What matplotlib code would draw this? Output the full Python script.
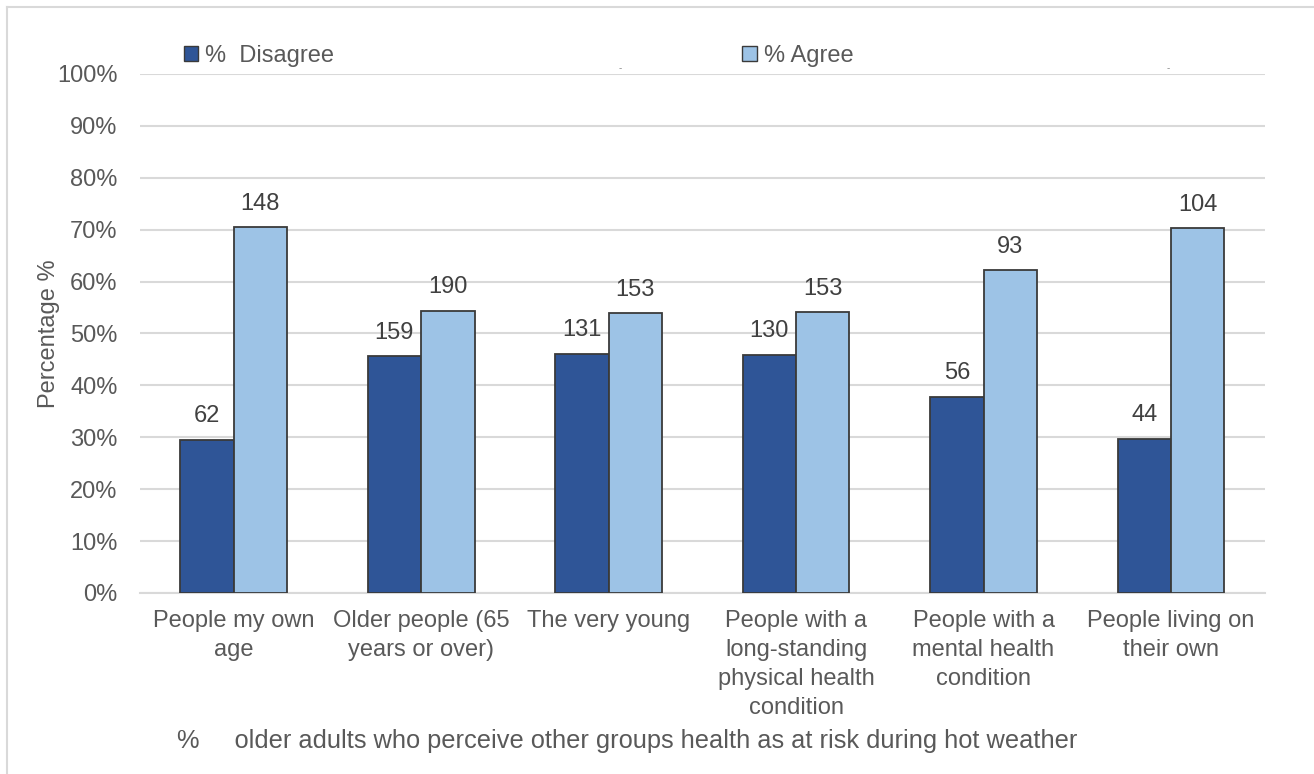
import matplotlib.pyplot as plt
from matplotlib.patches import Patch
from matplotlib.lines import Line2D
import numpy as np

plt.rcParams['font.family'] = ['Liberation Sans', 'DejaVu Sans']

# chart values
groups = ["People my own\nage", "Older people (65\nyears or over)", "The very young",
          "People with a\nlong-standing\nphysical health\ncondition",
          "People with a\nmental health\ncondition", "People living on\ntheir own"]
disagree_pct = [29.5, 45.6, 46.1, 45.9, 37.8, 29.7]
agree_pct = [70.5, 54.4, 53.9, 54.1, 62.2, 70.3]
disagree_n = [62, 159, 131, 130, 56, 44]
agree_n = [148, 190, 153, 153, 93, 104]

text_col = '#595959'
dark_blue = '#2F5597'
light_blue = '#9DC3E6'
fs = 17

fig = plt.figure(figsize=(13.14, 7.74), dpi=100)
ax = fig.add_axes([0.1065, 0.2339, 0.856, 0.6705])

x = np.arange(len(groups))
w = 0.285
b1 = ax.bar(x - w / 2, disagree_pct, w, color=dark_blue, edgecolor='#3a3a3a', linewidth=1.3, zorder=3)
b2 = ax.bar(x + w / 2, agree_pct, w, color=light_blue, edgecolor='#3a3a3a', linewidth=1.3, zorder=3)

for bars, counts in ((b1, disagree_n), (b2, agree_n)):
    for rect, n in zip(bars, counts):
        ax.annotate(str(n), (rect.get_x() + rect.get_width() / 2, rect.get_height()),
                    xytext=(0, 9), textcoords='offset points', ha='center', va='bottom',
                    fontsize=fs, color='#404040')

ax.set_xlim(-0.5, len(groups) - 0.5)
ax.set_ylim(0, 100)
ax.set_yticks(np.arange(0, 101, 10))
ax.set_yticklabels([f"{v}%" for v in range(0, 101, 10)])
ax.set_xticks(x)
ax.set_xticklabels(groups, linespacing=1.42)
ax.tick_params(axis='both', length=0, labelsize=fs, labelcolor=text_col)
ax.tick_params(axis='y', pad=16)
ax.tick_params(axis='x', pad=12)
ax.grid(axis='y', color='#d9d9d9', linewidth=1.5, zorder=0)
for s in ['top', 'right', 'left']:
    ax.spines[s].set_visible(False)
ax.spines['bottom'].set_color('#d9d9d9')
ax.spines['bottom'].set_linewidth(1.5)
ax.set_ylabel("Percentage %", fontsize=fs, color=text_col)
ax.yaxis.set_label_coords(-0.071, 0.5)

# legend placed by hand like the original
leg_kw = dict(loc='center left', frameon=False, fontsize=fs, labelcolor=text_col,
              handlelength=0.6, handleheight=0.6, handletextpad=0.3, borderpad=0, borderaxespad=0)
fig.legend(handles=[Patch(facecolor=dark_blue, edgecolor='#3a3a3a')], labels=["%  Disagree"],
           bbox_to_anchor=(0.140, 0.928), **leg_kw)
fig.legend(handles=[Patch(facecolor=light_blue, edgecolor='#3a3a3a')], labels=["% Agree"],
           bbox_to_anchor=(0.565, 0.928), **leg_kw)
fig.text(0.472, 0.912, "-", fontsize=7, color='#888888', ha='center', va='center')
fig.text(0.889, 0.912, "-", fontsize=7, color='#888888', ha='center', va='center')

fig.text(0.135, 0.042, "%     older adults who perceive other groups health as at risk during hot weather",
         fontsize=18.3, color=text_col, ha='left', va='center')

# outer chart border
fig.add_artist(Line2D([0.0057, 0.0057], [0, 0.991], color='#d9d9d9', linewidth=1.5))
fig.add_artist(Line2D([0.0057, 1.0], [0.991, 0.991], color='#d9d9d9', linewidth=1.5))

fig.savefig('out.png', dpi=100, facecolor='white')
